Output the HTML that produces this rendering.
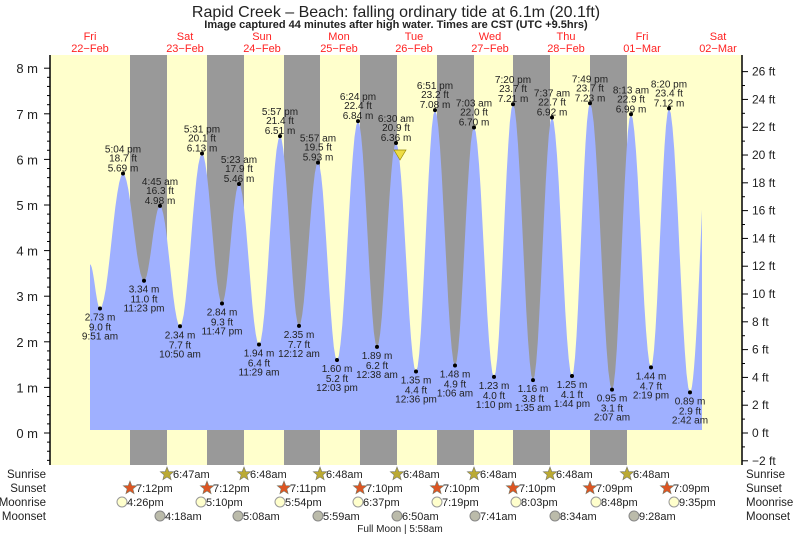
<!DOCTYPE html>
<html><head><meta charset="utf-8"><style>
body{margin:0;background:#fff;}
svg{display:block;font-family:"Liberation Sans",sans-serif;}
</style></head><body>
<svg id="s" width="793" height="537" viewBox="0 0 793 537" xmlns="http://www.w3.org/2000/svg">
<rect x="50" y="55" width="692" height="410" fill="#ffffcc"/>
<g fill="#999">
<rect x="130" y="55" width="37" height="410"/><rect x="207" y="55" width="37" height="410"/>
<rect x="284" y="55" width="36" height="410"/><rect x="360" y="55" width="37" height="410"/>
<rect x="437" y="55" width="37" height="410"/><rect x="513" y="55" width="37" height="410"/>
<rect x="590" y="55" width="37" height="410"/>
</g>
<path id="tide" fill="#9fb0ff" d=""/>
<g id="g"></g>
<text x="396" y="17" font-size="16" text-anchor="middle" fill="#222">Rapid Creek – Beach: falling  ordinary tide at 6.1m (20.1ft)</text>
<text x="396" y="28" font-size="11" font-weight="bold" text-anchor="middle" fill="#222">Image captured 44 minutes after high water. Times are CST (UTC +9.5hrs)</text>
<text x="400" y="532" font-size="10" text-anchor="middle" fill="#222">Full Moon | 5:58am</text>
<polygon points="394,150 406,150 400,160" fill="#eedd44" stroke="#998800" stroke-width="0.7"/>
</svg>
<script>
const NS="http://www.w3.org/2000/svg",g=document.getElementById('g');
function el(t,a,txt){const e=document.createElementNS(NS,t);for(const k in a)e.setAttribute(k,a[k]);if(txt!==undefined)e.textContent=txt;g.appendChild(e);return e;}
const Y=m=>433-m*45.6;
const pts=[[90,3.7],[100,2.73,'9:51 am','9.0 ft','2.73 m'],[123,5.69,'5:04 pm','18.7 ft','5.69 m'],[144,3.34,'11:23 pm','11.0 ft','3.34 m'],[160,4.98,'4:45 am','16.3 ft','4.98 m'],[180,2.34,'10:50 am','7.7 ft','2.34 m'],[202,6.13,'5:31 pm','20.1 ft','6.13 m'],[222,2.84,'11:47 pm','9.3 ft','2.84 m'],[239,5.46,'5:23 am','17.9 ft','5.46 m'],[259,1.94,'11:29 am','6.4 ft','1.94 m'],[280,6.51,'5:57 pm','21.4 ft','6.51 m'],[299,2.35,'12:12 am','7.7 ft','2.35 m'],[318,5.93,'5:57 am','19.5 ft','5.93 m'],[337,1.60,'12:03 pm','5.2 ft','1.60 m'],[358,6.84,'6:24 pm','22.4 ft','6.84 m'],[377,1.89,'12:38 am','6.2 ft','1.89 m'],[396,6.36,'6:30 am','20.9 ft','6.36 m'],[416,1.35,'12:36 pm','4.4 ft','1.35 m'],[435,7.08,'6:51 pm','23.2 ft','7.08 m'],[455,1.48,'1:06 am','4.9 ft','1.48 m'],[474,6.70,'7:03 am','22.0 ft','6.70 m'],[494,1.23,'1:10 pm','4.0 ft','1.23 m'],[513,7.21,'7:20 pm','23.7 ft','7.21 m'],[533,1.16,'1:35 am','3.8 ft','1.16 m'],[552,6.92,'7:37 am','22.7 ft','6.92 m'],[572,1.25,'1:44 pm','4.1 ft','1.25 m'],[590,7.23,'7:49 pm','23.7 ft','7.23 m'],[612,0.95,'2:07 am','3.1 ft','0.95 m'],[631,6.99,'8:13 am','22.9 ft','6.99 m'],[651,1.44,'2:19 pm','4.7 ft','1.44 m'],[669,7.12,'8:20 pm','23.4 ft','7.12 m'],[690,0.89,'2:42 am','2.9 ft','0.89 m'],[702,4.9]];
let d=`M90,430 L90,${Y(3.7)}`;
for(let i=0;i<pts.length-1;i++){const[a,ma]=pts[i],[b,mb]=pts[i+1];
 const last=i==pts.length-2;
 for(let k=1;k<=12;k++){let t=k/12;let x=a+(b-a)*t;let f=last?(1-Math.cos(t*Math.PI/2)):(1-Math.cos(t*Math.PI))/2;d+=` L${x.toFixed(1)},${Y(ma+(mb-ma)*f).toFixed(1)}`;}}
d+=' L702,430 Z';document.getElementById('tide').setAttribute('d',d);
pts.forEach((p,i)=>{if(!p[2])return;const x=p[0],y=Y(p[1]);const hi=(i%2==0);
 el('circle',{cx:x,cy:y,r:2,fill:'#000'});
 const a={'font-size':10,'text-anchor':'middle',fill:'#222'};
 if(hi){el('text',{...a,x,y:y-21},p[2]);el('text',{...a,x,y:y-12},p[3]);el('text',{...a,x,y:y-2},p[4]);}
 else{el('text',{...a,x,y:y+12},p[4]);el('text',{...a,x,y:y+22},p[3]);el('text',{...a,x,y:y+31},p[2]);}
});
el('line',{x1:50,y1:55,x2:50,y2:465,stroke:'#000','stroke-width':1.5});
el('line',{x1:742,y1:55,x2:742,y2:465,stroke:'#000','stroke-width':1.5});
for(let m=-0.6;m<=8.2;m+=0.2){const y=Y(m);if(y<56||y>465)continue;const maj=Math.abs(m-Math.round(m))<0.01;
 el('line',{x1:maj?44:47,y1:y,x2:50,y2:y,stroke:'#000'});
 if(maj)el('text',{x:38,y:y+5,'font-size':13,'text-anchor':'end',fill:'#222'},Math.round(m)+' m');}
for(let f=-2;f<=26;f+=1){const y=433-f*0.3048*45.6;const maj=f%2==0;
 el('line',{x1:742,y1:y,x2:maj?748:745,y2:y,stroke:'#000'});
 if(maj)el('text',{x:752,y:y+4,'font-size':12,fill:'#222'},(f<0?'−':'')+Math.abs(f)+' ft');}
const days=[[90,'Fri','22−Feb'],[185,'Sat','23−Feb'],[262,'Sun','24−Feb'],[339,'Mon','25−Feb'],[414,'Tue','26−Feb'],[490,'Wed','27−Feb'],[566,'Thu','28−Feb'],[642,'Fri','01−Mar'],[718,'Sat','02−Mar']];
days.forEach(([x,a,b])=>{el('text',{x,y:40,'font-size':11,'text-anchor':'middle',fill:'#ff2222'},a);el('text',{x,y:52,'font-size':11,'text-anchor':'middle',fill:'#ff2222'},b);});
const rows=[['Sunrise',478],['Sunset',492],['Moonrise',506],['Moonset',520]];
rows.forEach(([t,y])=>{el('text',{x:46,y,'font-size':11.5,'text-anchor':'end',fill:'#222'},t);el('text',{x:746,y,'font-size':11.5,fill:'#222'},t);});
function star(cx,cy,fill){let s='';for(let i=0;i<10;i++){const r=i%2?3:7,a=-Math.PI/2+i*Math.PI/5;s+=(cx+r*Math.cos(a)).toFixed(1)+','+(cy+r*Math.sin(a)).toFixed(1)+' ';}el('polygon',{points:s,fill,stroke:'#776','stroke-width':0.6});}
[[167,'6:47am'],[244,'6:48am'],[320,'6:48am'],[397,'6:48am'],[474,'6:48am'],[550,'6:48am'],[627,'6:48am']].forEach(([x,t])=>{star(x,474,'#bbaa33');el('text',{x:x+6,y:478,'font-size':11,fill:'#222'},t);});
[[130,'7:12pm'],[207,'7:12pm'],[284,'7:11pm'],[360,'7:10pm'],[437,'7:10pm'],[513,'7:10pm'],[590,'7:09pm'],[667,'7:09pm']].forEach(([x,t])=>{star(x,488,'#dd5522');el('text',{x:x+6,y:492,'font-size':11,fill:'#222'},t);});
[[122,'4:26pm'],[201,'5:10pm'],[280,'5:54pm'],[358,'6:37pm'],[437,'7:19pm'],[516,'8:03pm'],[596,'8:48pm'],[674,'9:35pm']].forEach(([x,t])=>{el('circle',{cx:x,cy:502,r:5,fill:'#ffffcc',stroke:'#999'});el('text',{x:x+5,y:506,'font-size':11,fill:'#222'},t);});
[[160,'4:18am'],[238,'5:08am'],[318,'5:59am'],[397,'6:50am'],[475,'7:41am'],[555,'8:34am'],[634,'9:28am']].forEach(([x,t])=>{el('circle',{cx:x,cy:516,r:5,fill:'#bbbbaa',stroke:'#888'});el('text',{x:x+5,y:520,'font-size':11,fill:'#222'},t);});
</script>
</body></html>
